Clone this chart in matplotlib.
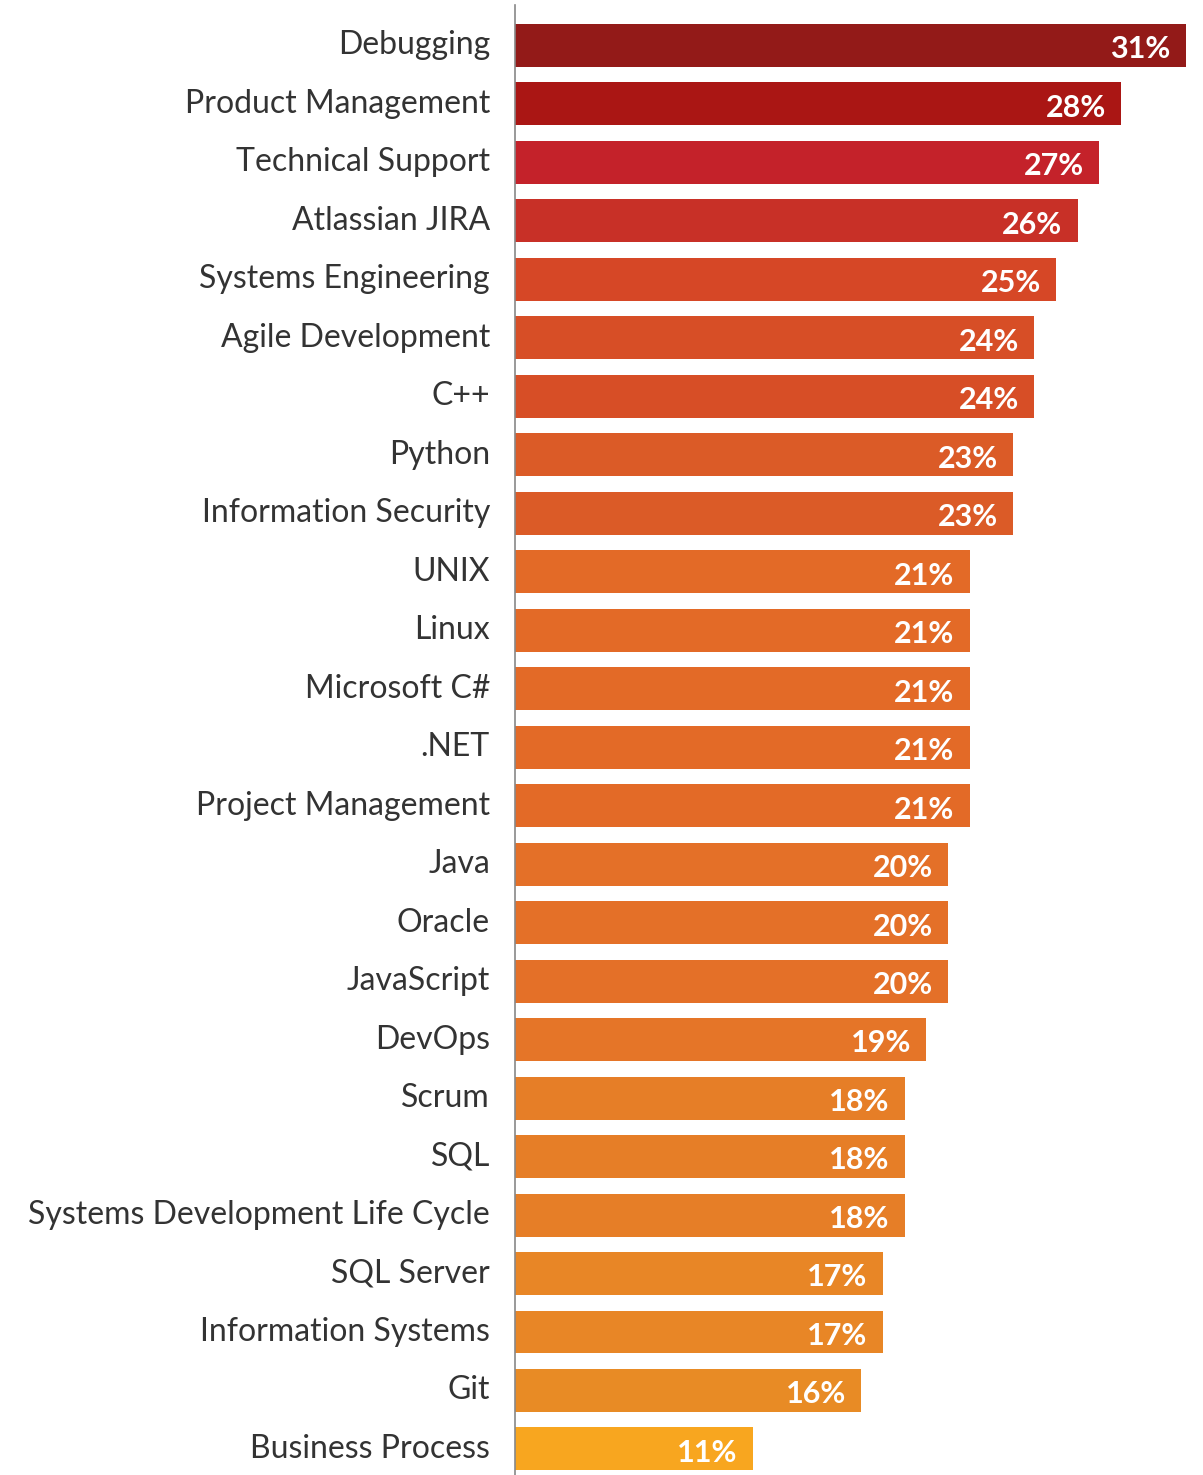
import matplotlib
matplotlib.use("Agg")
import matplotlib.pyplot as plt
from matplotlib.transforms import ScaledTranslation

categories = ["Debugging", "Product Management", "Technical Support", "Atlassian JIRA",
              "Systems Engineering", "Agile Development", "C++", "Python",
              "Information Security", "UNIX", "Linux", "Microsoft C#", ".NET",
              "Project Management", "Java", "Oracle", "JavaScript", "DevOps", "Scrum",
              "SQL", "Systems Development Life Cycle", "SQL Server", "Information Systems",
              "Git", "Business Process"]
values = [31, 28, 27, 26, 25, 24, 24, 23, 23, 21, 21, 21, 21, 21, 20, 20, 20, 19,
          18, 18, 18, 17, 17, 16, 11]
colors = ["#931a18", "#aa1614", "#c4222a", "#c83027", "#d64726", "#d74e26", "#d74e26",
          "#db5b27", "#db5b27", "#e36a27", "#e36a27", "#e36a27", "#e36a27", "#e36a27",
          "#e47028", "#e47028", "#e47028", "#e57528", "#e67e27", "#e67e27", "#e67e27",
          "#e88626", "#e88626", "#e88b25", "#f8a61f"]

plt.rcParams['font.family'] = ['Lato', 'DejaVu Sans']

W, H = 1203, 1475
fig = plt.figure(figsize=(W / 100, H / 100), dpi=100)
left = 515 / W
top = 5 / H
ax = fig.add_axes([left, 0, 1 - left, 1 - top])

y = list(range(len(categories)))
ax.barh(y, values, height=0.735, color=colors)
ax.set_xlim(0, 31 * (W - 515) / 671)
ax.set_ylim(24.445, -0.69)
ax.set_yticks(y)
ax.set_yticklabels(categories, fontsize=23, color="#333333")
ax.tick_params(axis='y', length=0, pad=18)
ax.set_xticks([])
shift = ScaledTranslation(0, 3 / 100, fig.dpi_scale_trans)
for lbl in ax.get_yticklabels():
    lbl.set_transform(lbl.get_transform() + shift)
for s in ["top", "right", "bottom"]:
    ax.spines[s].set_visible(False)
ax.spines["left"].set_color("#888888")
ax.spines["left"].set_linewidth(1.2)

for yi, v in zip(y, values):
    ax.annotate(f"{v}%", xy=(v, yi), xytext=(-11, -1), textcoords="offset points",
                ha="right", va="center_baseline", color="white", fontsize=22,
                fontweight="bold")

fig.savefig("out.png", dpi=100)
